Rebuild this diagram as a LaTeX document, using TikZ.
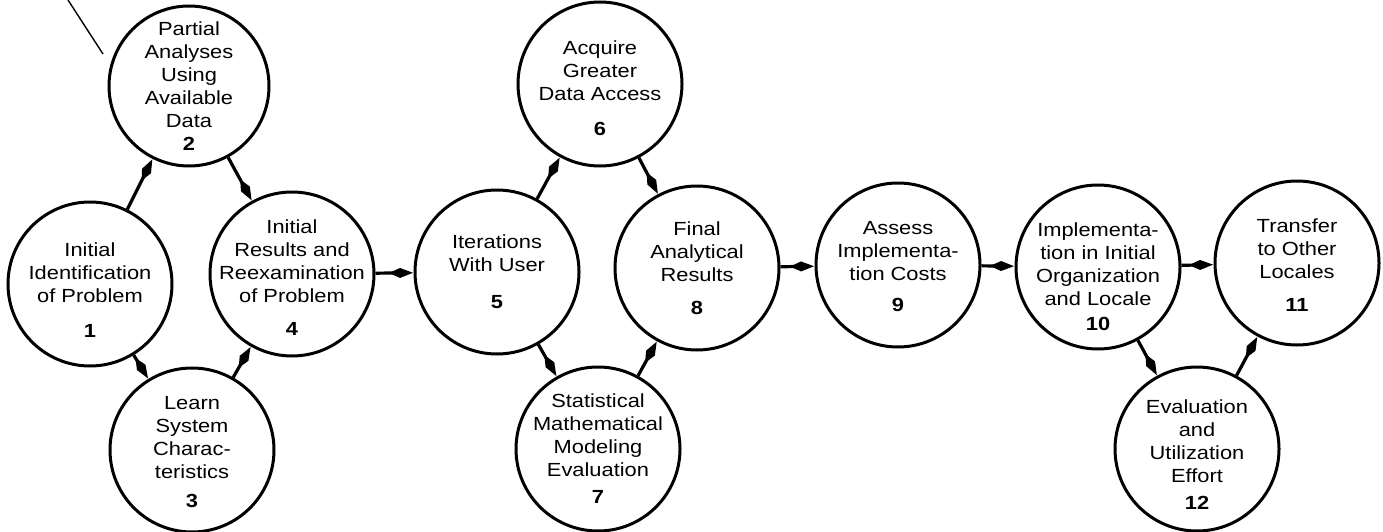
\documentclass[tikz,border=0pt]{standalone}
\usepackage{fontspec}
\setmainfont{Liberation Sans}[FakeStretch=1.15]
\usetikzlibrary{arrows.meta}
\begin{document}
\begin{tikzpicture}[x=1pt,y=-1pt,
  proc/.style={circle, draw, line width=3pt, minimum size=164pt, inner sep=0pt},
  lbl/.style={align=center, font=\fontsize{19}{23}\selectfont, inner sep=0pt},
  conn/.style={line width=3.2pt, -{Kite[length=24pt,width=10pt,inset=11pt]}, shorten >=0.5pt},
  stray/.style={line width=1.4pt}]
\useasboundingbox (0,0) rectangle (1383,532);
% circles
\node[proc] (n1) at (90,284) {};
\node[proc, minimum size=160pt] (n2) at (189,86) {};
\node[proc] (n3) at (192,450) {};
\node[proc] (n4) at (292,274) {};
\node[proc] (n5) at (497,272) {};
\node[proc] (n6) at (600,84) {};
\node[proc] (n7) at (598,449) {};
\node[proc] (n8) at (697,268) {};
\node[proc] (n9) at (898,265) {};
\node[proc] (n10) at (1098,267) {};
\node[proc] (n11) at (1297,263) {};
\node[proc] (n12) at (1197,449) {};
% labels
\node[lbl] (t1) at ([yshift=-6pt]n1.center) {Initial\\Identification\\of Problem\\[12pt]\textbf{1}};
\node[lbl] (t2) at (n2.center) {Partial\\Analyses\\Using\\Available\\Data\\\textbf{2}};
\node[lbl] (t3) at ([yshift=-2pt]n3.center) {Learn\\System\\Charac-\\teristics\\[6pt]\textbf{3}};
\node[lbl] (t4) at ([yshift=-4pt]n4.center) {Initial\\Results and\\Reexamination\\of Problem\\[10pt]\textbf{4}};
\node[lbl] (t5) at (n5.center) {Iterations\\With User\\[14pt]\textbf{5}};
\node[lbl] (t6) at ([yshift=-4pt]n6.center) {Acquire\\Greater\\Data Access\\[12pt]\textbf{6}};
\node[lbl] (t7) at (n7.center) {Statistical\\Mathematical\\Modeling\\Evaluation\\[4pt]\textbf{7}};
\node[lbl] (t8) at (n8.center) {Final\\Analytical\\Results\\[10pt]\textbf{8}};
\node[lbl] (t9) at ([yshift=-2pt]n9.center) {Assess\\Implementa-\\tion Costs\\[8pt]\textbf{9}};
\node[lbl] (t10) at ([yshift=-10pt]n10.center) {Implementa-\\tion in Initial\\Organization\\and Locale\\[2pt]\textbf{10}};
\node[lbl] (t11) at ([yshift=-2pt]n11.center) {Transfer\\to Other\\Locales\\[10pt]\textbf{11}};
\node[lbl] (t12) at ([yshift=-6pt]n12.center) {Evaluation\\and\\Utilization\\Effort\\[4pt]\textbf{12}};
% connectors
\draw[conn] (n1) -- (n2);
\draw[conn] (n2) -- (n4);
\draw[conn] (n1) -- (n3);
\draw[conn] (n3) -- (n4);
\draw[conn] (n4) -- (n5);
\draw[conn] (n5) -- (n6);
\draw[conn] (n6) -- (n8);
\draw[conn] (n5) -- (n7);
\draw[conn] (n7) -- (n8);
\draw[conn] (n8) -- (n9);
\draw[conn] (n9) -- (n10);
\draw[conn] (n10) -- (n11);
\draw[conn] (n10) -- (n12);
\draw[conn] (n12) -- (n11);
% stray stroke at top left
\coordinate (s1) at (68,0);
\coordinate (s2) at (103,54);
\draw[stray] (s1) -- (s2);
\end{tikzpicture}
\end{document}
